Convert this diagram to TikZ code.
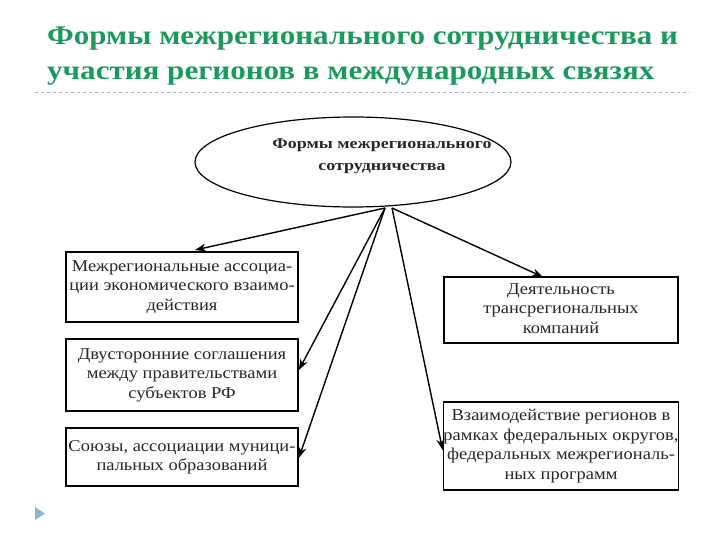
\documentclass[tikz,border=0pt]{standalone}
\usepackage{fontspec}
\usepackage{graphicx}
\setmainfont{Liberation Serif}
\usetikzlibrary{arrows.meta,shapes.geometric}
\definecolor{titlegreen}{HTML}{1A9A5C}
\definecolor{bullet}{HTML}{8DB3D9}
\newcommand{\stretchtext}[2]{\scalebox{#1}[1]{\begin{tabular}{@{}c@{}}#2\end{tabular}}}
\tikzset{
  box/.style={draw=black, line width=1.7pt, inner sep=0pt, align=center, font=\fontsize{16.5}{19.5}\selectfont, text=black!85},
  arr/.style={line width=1.4pt, -{Stealth[length=11pt,width=8pt]}},
  ttl/.style={anchor=base west, text=titlegreen, font=\fontsize{27}{30}\selectfont\bfseries, inner sep=0},
}
\begin{document}
\begin{tikzpicture}[x=1pt,y=-1pt]
\useasboundingbox (0,0) rectangle (720,540);
\node[ttl] (t1) at (47,45) {\scalebox{1.15}[1]{Формы межрегионального сотрудничества и}};
\node[ttl] (t2) at (47,80) {\scalebox{1.15}[1]{участия регионов в международных связях}};
\draw[gray!60, dashed, line width=0.6pt] (35,92) coordinate (dl) -- (690,92) coordinate (dr);

\node[draw, ellipse, line width=1.2pt, minimum width=316pt, minimum height=90pt, inner sep=0] (e) at (353,162) {};
\node[font=\fontsize{15}{22}\selectfont\bfseries, text=black!85, inner sep=0] (et) at (382,155) {\stretchtext{1.2}{Формы межрегионального\\сотрудничества}};

\node[box, minimum width=232pt, minimum height=70pt] (b1) at (182,287) {\stretchtext{1.12}{Межрегиональные ассоциа-\\ции экономического взаимо-\\действия}};
\node[box, minimum width=232pt, minimum height=72pt] (b2) at (182,375) {\stretchtext{1.12}{Двусторонние соглашения\\между правительствами\\субъектов РФ}};
\node[box, minimum width=232pt, minimum height=58pt] (b3) at (182,457) {\stretchtext{1.12}{Союзы, ассоциации муници-\\пальных образований}};
\node[box, minimum width=234pt, minimum height=66pt] (b4) at (561,310) {\stretchtext{1.12}{Деятельность\\трансрегиональных\\компаний}};
\node[box, minimum width=234pt, minimum height=88pt] (b5) at (561,446) {\stretchtext{1.12}{Взаимодействие регионов в\\рамках федеральных округов,\\федеральных межрегиональ-\\ных программ}};

\coordinate (oL) at (385,208);
\coordinate (oR) at (392,208);
\draw[arr] (oL) -- (195,250);
\draw[arr] (oL) -- (b2.east |- 0,370);
\draw[arr] (oL) -- (b3.east |- 0,458);
\draw[arr] (oR) -- (543,277);
\draw[arr] (oR) -- (b5.west |- 0,450);

\fill[bullet] (35,507) -- (45,513.5) -- (35,520) -- cycle;
\end{tikzpicture}
\end{document}
